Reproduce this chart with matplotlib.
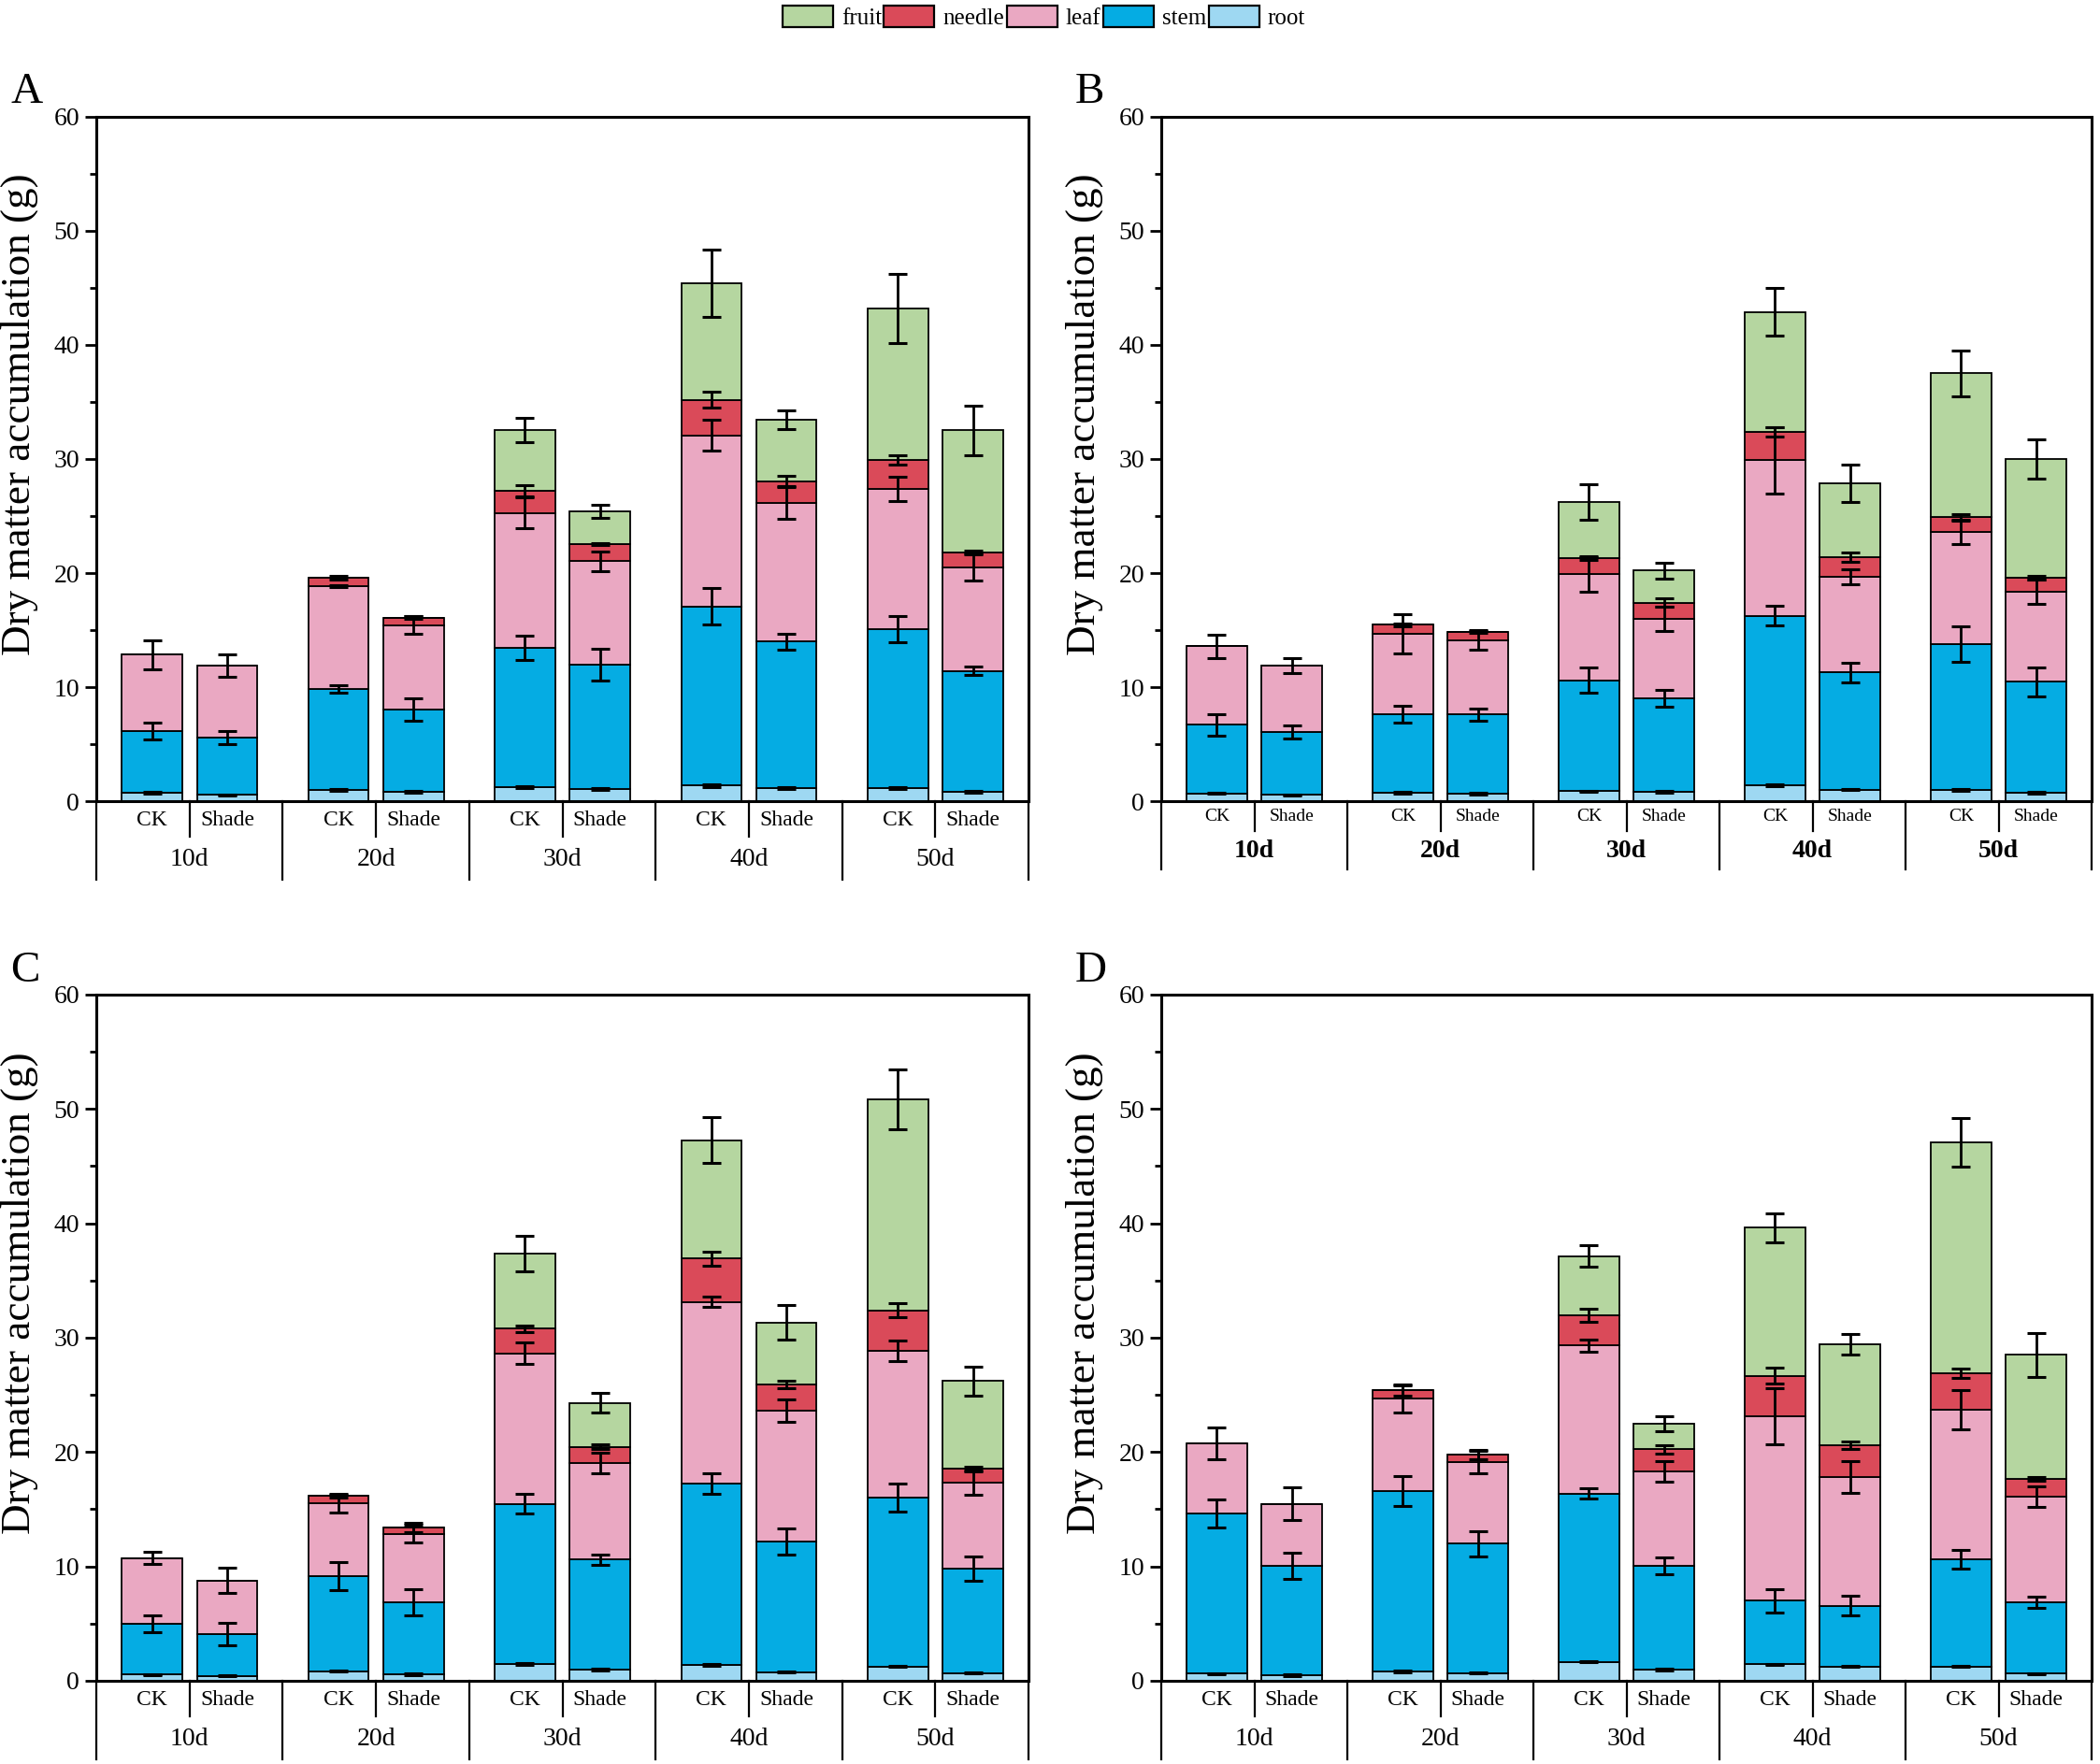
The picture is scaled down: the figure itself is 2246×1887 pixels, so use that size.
import numpy as np
import matplotlib
matplotlib.use("Agg")
import matplotlib.pyplot as plt
from matplotlib.patches import Patch

plt.rcParams['font.family'] = ['Liberation Serif', 'DejaVu Serif']

# ---------------- data ----------------
days = ['10d', '20d', '30d', '40d', '50d']
treatments = ['CK', 'Shade']
organs = ['root', 'stem', 'leaf', 'needle', 'fruit']
legend_order = ['fruit', 'needle', 'leaf', 'stem', 'root']
colors = {'fruit': '#B5D6A0', 'needle': '#DA4A59', 'leaf': '#EAA8C2',
          'stem': '#05ACE3', 'root': '#9ED8F2'}

# bar order: 10d CK, 10d Shade, 20d CK, 20d Shade, ... 50d Shade
# Panel A
A_root = [0.74, 0.57, 1.00, 0.82, 1.23, 1.04, 1.37, 1.15, 1.15, 0.82]
A_stem = [5.41, 5.00, 8.84, 7.21, 12.21, 10.93, 15.71, 12.84, 13.95, 10.60]
A_leaf = [6.69, 6.32, 9.01, 7.41, 11.83, 9.07, 15.00, 12.16, 12.30, 9.08]
A_needle = [0, 0, 0.75, 0.66, 1.97, 1.50, 3.11, 1.91, 2.50, 1.30]
A_fruit = [0, 0, 0, 0, 5.31, 2.86, 10.21, 5.40, 13.32, 10.70]
A_root_err = [0.05, 0.05, 0.06, 0.05, 0.10, 0.08, 0.10, 0.08, 0.08, 0.08]
A_stem_err = [0.70, 0.60, 0.35, 0.97, 1.10, 1.38, 1.57, 0.70, 1.16, 0.36]
A_leaf_err = [1.26, 0.98, 0.10, 0.80, 1.37, 0.85, 1.34, 1.37, 1.07, 1.19]
A_needle_err = [0, 0, 0.15, 0.10, 0.50, 0.10, 0.70, 0.45, 0.40, 0.15]
A_fruit_err = [0, 0, 0, 0, 1.06, 0.57, 2.95, 0.80, 3.04, 2.17]

# Panel B
B_root = [0.68, 0.55, 0.74, 0.66, 0.87, 0.82, 1.37, 1.00, 1.00, 0.74]
B_stem = [6.01, 5.52, 6.86, 6.94, 9.73, 8.20, 14.89, 10.28, 12.80, 9.72]
B_leaf = [6.89, 5.82, 7.10, 6.53, 9.29, 6.96, 13.64, 8.39, 9.83, 7.90]
B_needle = [0, 0, 0.79, 0.71, 1.42, 1.42, 2.46, 1.73, 1.27, 1.24]
B_fruit = [0, 0, 0, 0, 4.92, 2.82, 10.54, 6.47, 12.60, 10.40]
B_root_err = [0.05, 0.05, 0.05, 0.05, 0.05, 0.05, 0.08, 0.05, 0.08, 0.05]
B_stem_err = [0.97, 0.55, 0.74, 0.56, 1.10, 0.75, 0.85, 0.88, 1.55, 1.25]
B_leaf_err = [1.00, 0.66, 1.73, 0.85, 1.53, 1.05, 2.90, 0.65, 1.05, 1.08]
B_needle_err = [0, 0, 0.12, 0.12, 0.15, 0.37, 0.40, 0.40, 0.30, 0.15]
B_fruit_err = [0, 0, 0, 0, 1.58, 0.68, 2.07, 1.65, 2.00, 1.75]

# Panel C
C_root = [0.55, 0.44, 0.85, 0.57, 1.45, 0.96, 1.37, 0.77, 1.26, 0.68]
C_stem = [4.40, 3.66, 8.32, 6.30, 14.03, 9.64, 15.87, 11.43, 14.77, 9.12]
C_leaf = [5.77, 4.68, 6.37, 5.99, 13.16, 8.44, 15.86, 11.40, 12.85, 7.52]
C_needle = [0, 0, 0.60, 0.54, 2.15, 1.40, 3.82, 2.30, 3.49, 1.20]
C_fruit = [0, 0, 0, 0, 6.54, 3.86, 10.35, 5.43, 18.45, 7.68]
C_root_err = [0.05, 0.05, 0.06, 0.05, 0.06, 0.06, 0.06, 0.05, 0.06, 0.05]
C_stem_err = [0.74, 1.00, 1.22, 1.12, 0.85, 0.45, 0.88, 1.13, 1.25, 1.05]
C_leaf_err = [0.52, 1.12, 0.82, 0.75, 0.95, 0.90, 0.45, 0.96, 0.89, 1.03]
C_needle_err = [0, 0, 0.12, 0.40, 0.30, 0.20, 0.60, 0.30, 0.61, 0.20]
C_fruit_err = [0, 0, 0, 0, 1.57, 0.88, 2.00, 1.53, 2.62, 1.27]

# Panel D
D_root = [0.63, 0.49, 0.82, 0.68, 1.64, 0.98, 1.45, 1.26, 1.26, 0.63]
D_stem = [14.01, 9.58, 15.78, 11.30, 14.72, 9.09, 5.55, 5.31, 9.36, 6.24]
D_leaf = [6.10, 5.39, 8.05, 7.12, 12.96, 8.26, 16.12, 11.24, 13.08, 9.22]
D_needle = [0, 0, 0.79, 0.68, 2.63, 1.92, 3.56, 2.79, 3.20, 1.58]
D_fruit = [0, 0, 0, 0, 5.18, 2.21, 12.94, 8.86, 20.17, 10.83]
D_root_err = [0.05, 0.05, 0.05, 0.05, 0.05, 0.05, 0.05, 0.05, 0.06, 0.05]
D_stem_err = [1.24, 1.14, 1.33, 1.10, 0.45, 0.75, 1.00, 0.86, 0.80, 0.50]
D_leaf_err = [1.37, 1.44, 1.20, 1.00, 0.55, 0.90, 2.43, 1.40, 1.70, 0.88]
D_needle_err = [0, 0, 0.50, 0.40, 0.60, 0.38, 0.70, 0.33, 0.40, 0.15]
D_fruit_err = [0, 0, 0, 0, 0.95, 0.67, 1.25, 0.90, 2.13, 1.90]

ylabel = 'Dry matter accumulation (g)'

panels = {
    'A': ([A_root, A_stem, A_leaf, A_needle, A_fruit],
          [A_root_err, A_stem_err, A_leaf_err, A_needle_err, A_fruit_err]),
    'B': ([B_root, B_stem, B_leaf, B_needle, B_fruit],
          [B_root_err, B_stem_err, B_leaf_err, B_needle_err, B_fruit_err]),
    'C': ([C_root, C_stem, C_leaf, C_needle, C_fruit],
          [C_root_err, C_stem_err, C_leaf_err, C_needle_err, C_fruit_err]),
    'D': ([D_root, D_stem, D_leaf, D_needle, D_fruit],
          [D_root_err, D_stem_err, D_leaf_err, D_needle_err, D_fruit_err]),
}

# ---------------- layout ----------------
W, H = 2246, 1887
fig = plt.figure(figsize=(W / 100, H / 100), dpi=100)

axpos = {
    'A': [0.0459, 0.5458, 0.4439, 0.388],
    'B': [0.5530, 0.5458, 0.4430, 0.388],
    'C': [0.0459, 0.0472, 0.4439, 0.389],
    'D': [0.5530, 0.0472, 0.4430, 0.389],
}
letterpos = {'A': (0.005, 0.9417), 'B': (0.512, 0.9417),
             'C': (0.005, 0.4436), 'D': (0.512, 0.4436)}

bar_w = 0.648
x_ck = np.array([2 * i + 0.597 for i in range(len(days))])
x_sh = np.array([2 * i + 1.403 for i in range(len(days))])
xpos = np.empty(2 * len(days))
xpos[0::2] = x_ck
xpos[1::2] = x_sh

for key, (vals, errs) in panels.items():
    ax = fig.add_axes(axpos[key])
    bottom = np.zeros(len(xpos))
    tops = []
    for organ, v in zip(organs, vals):
        v = np.array(v, dtype=float)
        ax.bar(xpos, v, bottom=bottom, width=bar_w, color=colors[organ],
               edgecolor='black', linewidth=1.3, zorder=2)
        bottom = bottom + v
        tops.append(bottom.copy())
    for organ, v, e, t in zip(organs, vals, errs, tops):
        v = np.array(v, dtype=float)
        mask = v > 0
        ax.errorbar(xpos[mask], t[mask], yerr=np.array(e)[mask], fmt='none',
                    ecolor='black', elinewidth=2.0, capsize=7, capthick=2.2,
                    zorder=4)

    ax.set_xlim(0, 10)
    ax.set_ylim(0, 60)
    ax.set_yticks(np.arange(0, 61, 10))
    ax.set_yticks(np.arange(5, 60, 10), minor=True)
    ax.tick_params(axis='y', which='major', direction='out', length=9,
                   width=2, labelsize=20, pad=4)
    ax.tick_params(axis='y', which='minor', direction='out', length=5, width=2)
    ax.set_xticks([])
    for s in ax.spines.values():
        s.set_linewidth(2.2)
    ax.set_ylabel(ylabel, fontsize=32.5)
    ax.yaxis.set_label_coords(-0.062, 0.565)

    bold = (key == 'B')
    depth = 6.0 if bold else 6.85
    subdepth = 2.6 if bold else 3.1
    sub_y = -1.35 if bold else -1.65
    grp_y = -4.4 if bold else -5.15
    sub_fs = 14 if bold else 17
    for gx in range(0, 11, 2):
        ax.plot([gx, gx], [0, -depth], color='black', lw=1.6,
                clip_on=False, zorder=5)
    for i, d in enumerate(days):
        ax.plot([2 * i + 1, 2 * i + 1], [0, -subdepth], color='black',
                lw=1.6, clip_on=False, zorder=5)
        ax.text(x_ck[i], sub_y, treatments[0], ha='center', va='center',
                fontsize=sub_fs, clip_on=False)
        ax.text(x_sh[i], sub_y, treatments[1], ha='center', va='center',
                fontsize=sub_fs, clip_on=False)
        ax.text(2 * i + 1, grp_y, d, ha='center', va='center', fontsize=20,
                fontweight='bold' if bold else 'normal', clip_on=False)

    fig.text(letterpos[key][0], letterpos[key][1], key, fontsize=34,
             ha='left', va='baseline')

handles = [Patch(facecolor=colors[o], edgecolor='black', linewidth=1.6,
                 label=o) for o in legend_order]
fig.legend(handles=handles, loc='upper center', bbox_to_anchor=(0.497, 0.998),
           ncol=5, frameon=False, fontsize=18, handlelength=2.16,
           handleheight=1.05, handletextpad=0.36, columnspacing=0.1,
           borderpad=0.1, borderaxespad=0)

fig.savefig('out.png', dpi=100)
